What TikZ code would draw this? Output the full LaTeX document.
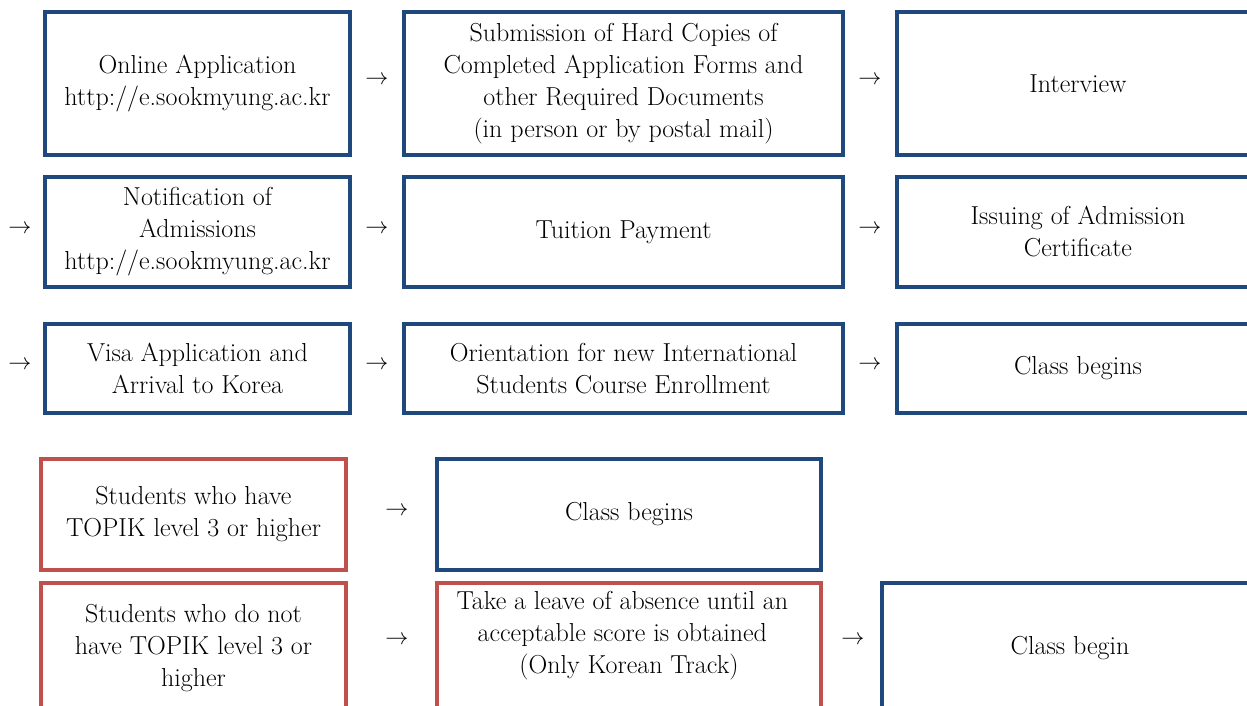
\documentclass[tikz,border=0pt]{standalone}
\usepackage{tikz}
\usepackage{xcolor}
\definecolor{boxblue}{RGB}{31,73,125}
\definecolor{boxred}{RGB}{192,80,77}

\begin{document}
\begin{tikzpicture}[x=0.75pt,y=-0.75pt,
  txt/.style={font=\fontsize{19.5}{24}\selectfont, align=center},
  bluebox/.style={txt, draw=boxblue, line width=3pt, inner sep=0pt},
  redbox/.style={txt, draw=boxred, line width=3pt, inner sep=0pt},
  arr/.style={font=\fontsize{16.5}{24}\selectfont, inner sep=0pt}]
%page size
\useasboundingbox (0,0) rectangle (1247,706);
\clip (0,0) rectangle (1247,706);
%first row
\node[bluebox, minimum width=229, minimum height=107] (online) at (197.5,83.5) {Online Application\\http://e.sookmyung.ac.kr};
\node[bluebox, minimum width=329, minimum height=107] (submit) at (623.5,83.5) {Submission of Hard Copies of\\Completed Application Forms and\\other Required Documents\\(in person or by postal mail)};
\node[bluebox, minimum width=272, minimum height=107] (interview) at (1078,83.5) {Interview};
%second row
\node[bluebox, minimum width=229, minimum height=83] (notify) at (197.5,232) {Notification of\\Admissions\\http://e.sookmyung.ac.kr};
\node[bluebox, minimum width=329, minimum height=83] (tuition) at (623.5,232) {Tuition Payment};
\node[bluebox, minimum width=272, minimum height=83] (issue) at (1078,232) {Issuing of Admission\\Certificate};
%third row
\node[bluebox, minimum width=229, minimum height=67] (visa) at (197.5,368.5) {Visa Application and\\Arrival to Korea};
\node[bluebox, minimum width=329, minimum height=67] (orient) at (623.5,368.5) {Orientation for new International\\Students Course Enrollment};
\node[bluebox, minimum width=272, minimum height=67] (begins) at (1078,368.5) {Class begins};
%TOPIK cases
\node[redbox, minimum width=229, minimum height=83] (topikyes) at (193.5,514.5) {Students who have\\TOPIK level 3 or higher};
\node[bluebox, minimum width=288, minimum height=83] (beginsyes) at (629,514.5) {Class begins};
\node[redbox, minimum width=229, minimum height=98] (topikno) at (193.5,648) {Students who do not\\have TOPIK level 3 or\\higher};
\node[redbox, minimum width=288, minimum height=98,
  label={[txt,yshift=9pt,xshift=-5pt]center:{Take a leave of absence until an\\acceptable score is obtained\\\hspace{10pt}(Only Korean Track)}}] (leave) at (629,648) {};
\node[bluebox, minimum width=282, minimum height=98] (beginsno) at (1070,648) {Class begin};
%arrows
\node[arr] (a1) at (377,80) {$\rightarrow$};
\node[arr] (a2) at (870,80) {$\rightarrow$};
\node[arr] (a3) at (20,229) {$\rightarrow$};
\node[arr] (a4) at (377,229) {$\rightarrow$};
\node[arr] (a5) at (870,229) {$\rightarrow$};
\node[arr] (a6) at (20,365) {$\rightarrow$};
\node[arr] (a7) at (377,365) {$\rightarrow$};
\node[arr] (a8) at (870,365) {$\rightarrow$};
\node[arr] (a9) at (397,511) {$\rightarrow$};
\node[arr] (a10) at (397,640) {$\rightarrow$};
\node[arr] (a11) at (853,640) {$\rightarrow$};
\end{tikzpicture}
\end{document}
